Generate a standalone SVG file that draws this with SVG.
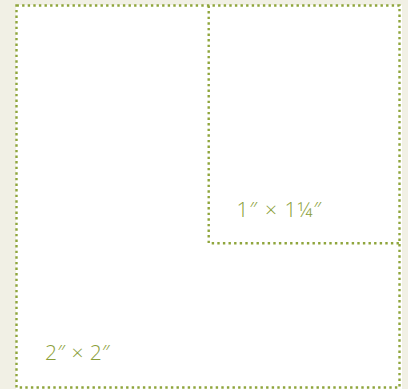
<svg xmlns="http://www.w3.org/2000/svg" width="408" height="389" viewBox="0 0 408 389">
<style>
.dot{fill:none;stroke:#8fa53c;stroke-width:2.4;stroke-dasharray:2.4 3.2}
.lbl{font-family:"Open Sans","Liberation Sans",sans-serif;font-weight:300;font-size:21px;fill:#8a9e38}
</style>
<rect x="0" y="0" width="408" height="389" fill="#f1f0e5"/>
<rect x="16" y="5" width="386" height="384" fill="#ffffff"/>
<g id="large">
<rect class="dot" x="16.5" y="5.5" width="383" height="382"/>
<text class="lbl" x="45" y="360" textLength="65" lengthAdjust="spacing">2″ × 2″</text>
</g>
<g id="small">
<path class="dot" d="M208.7 5.5 V243.3 H399.5"/>
<text class="lbl" x="236.5" y="217" textLength="85" lengthAdjust="spacing">1″ × 1¼″</text>
</g>
</svg>
